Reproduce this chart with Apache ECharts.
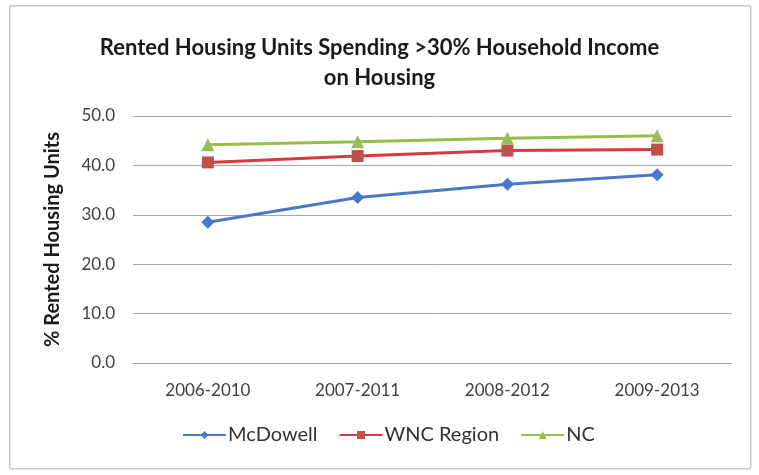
<!DOCTYPE html>
<html>
<head>
<meta charset="utf-8">
<script src="https://cdn.jsdelivr.net/npm/echarts@6/dist/echarts.min.js"></script>
<style>html,body{margin:0;padding:0;background:#fff}#c{width:759px;height:475px}</style>
</head>
<body>
<div id="c"></div>
<script>
var categories = ['2006-2010', '2007-2011', '2008-2012', '2009-2013'];
var mcdowell = [28.5, 33.5, 36.2, 38.1];
var wnc = [40.6, 41.9, 43.0, 43.2];
var nc = [44.2, 44.8, 45.5, 46.0];
var seriesNames = ['McDowell', 'WNC Region', 'NC'];

var FONT = 'Lato, "Open Sans", sans-serif';
var chart = echarts.init(document.getElementById('c'), null, {renderer: 'canvas'});
chart.setOption({
  backgroundColor: '#fff',
  animation: false,
  graphic: [{
    type: 'rect', left: 9, top: 5, z: -1,
    shape: {width: 741, height: 463, r: 2},
    style: {fill: '#fff', stroke: '#c9c9c9', lineWidth: 1.5}
  }],
  title: {
    text: 'Rented Housing Units Spending >30% Household Income\non Housing',
    left: 'center', top: 28,
    textStyle: {fontFamily: FONT, fontWeight: 'bold', fontSize: 22, color: '#1a1a1a', lineHeight: 30}
  },
  legend: {
    bottom: 25, left: 177,
    itemWidth: 43, itemHeight: 10, itemGap: 21,
    textStyle: {fontFamily: FONT, fontSize: 20, color: '#333', padding: [0, 0, 0, -3]},
    data: seriesNames
  },
  grid: {left: 133, right: 27, top: 116, bottom: 112},
  xAxis: {
    type: 'category', data: categories, boundaryGap: true,
    axisLine: {lineStyle: {color: '#a6a6a6'}},
    axisTick: {show: false},
    axisLabel: {fontFamily: FONT, fontSize: 17, color: '#404040', margin: 19}
  },
  yAxis: {
    type: 'value', min: 0, max: 50, interval: 10,
    name: '% Rented Housing Units', nameLocation: 'middle', nameGap: 70, nameRotate: 90,
    nameTextStyle: {fontFamily: FONT, fontSize: 20, fontWeight: 'bold', color: '#1a1a1a'},
    axisLine: {show: false}, axisTick: {show: false},
    axisLabel: {fontFamily: FONT, fontSize: 17, color: '#404040', margin: 18,
      formatter: function (v) { return v.toFixed(1); }},
    splitLine: {lineStyle: {color: '#a6a6a6', width: 1}}
  },
  series: [
    {name: seriesNames[0], type: 'line', data: mcdowell, symbol: 'diamond', symbolSize: 13,
     lineStyle: {width: 3, color: '#4a78c8'}, itemStyle: {color: '#4a78c8'}},
    {name: seriesNames[1], type: 'line', data: wnc, symbol: 'rect', symbolSize: 12,
     lineStyle: {width: 3, color: '#d63a3f'}, itemStyle: {color: '#c0504d'}},
    {name: seriesNames[2], type: 'line', data: nc, symbol: 'triangle', symbolSize: 13,
     lineStyle: {width: 3, color: '#95bf48'}, itemStyle: {color: '#9bbb59'}}
  ]
});
</script>
</body>
</html>
